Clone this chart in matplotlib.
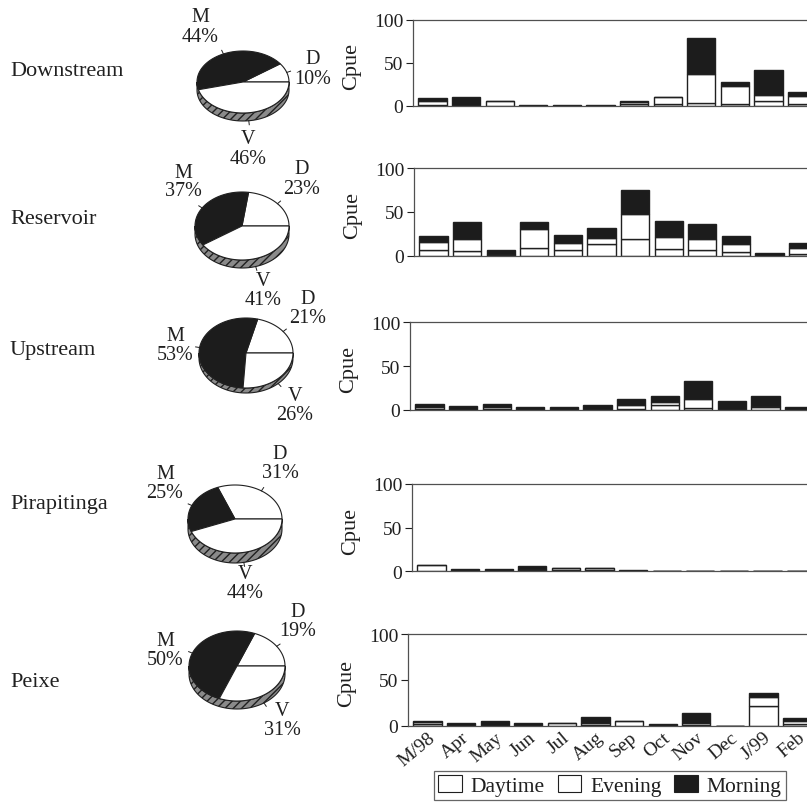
import numpy as np
import matplotlib
matplotlib.use("Agg")
import matplotlib.pyplot as plt
from matplotlib.patches import Polygon, Patch

plt.rcParams['font.family'] = ['Liberation Serif', 'DejaVu Serif']

months = ['M/98', 'Apr', 'May', 'Jun', 'Jul', 'Aug', 'Sep', 'Oct', 'Nov', 'Dec', 'J/99', 'Feb']
sites = ['Downstream', 'Reservoir', 'Upstream', 'Pirapitinga', 'Peixe']

# Cpue per month, split by period (Daytime / Evening / Morning)
down_day = [0.5, 0, 0, 0, 0, 0, 2, 2, 3.5, 2, 6, 2]
down_eve = [5, 0, 5, 0, 0, 0, 2, 8, 33, 20.5, 7, 9.5]
down_mor = [3, 10, 0, 1, 1, 1, 1, 0, 42.5, 5.5, 28.5, 4.5]

res_day = [7, 5, 1, 9, 6.5, 13, 19, 7.5, 6, 4, 0, 2]
res_eve = [9, 14.5, 0.5, 21.5, 8.5, 7, 28, 13.5, 13, 9, 0, 7]
res_mor = [6, 19, 5, 7.5, 9, 12, 27.5, 18, 17, 10, 2.7, 6]

up_day = [1, 0, 1, 0, 0, 0, 1, 5.5, 2.5, 0, 3, 0]
up_eve = [2, 0, 2, 0, 0, 0, 4.5, 4, 9.5, 0, 2, 0]
up_mor = [3.5, 5, 3.5, 3.5, 3, 6, 7, 7, 21, 10, 11, 3]

pira_day = [0, 0, 0, 1, 2, 2, 0, 0, 0, 0, 0, 0]
pira_eve = [7, 0, 0, 1.5, 1.5, 1.5, 0, 0, 0, 0, 0, 0]
pira_mor = [0, 3, 3, 3, 0.3, 0.3, 1.5, 0, 0, 0, 0, 0]

peixe_day = [2, 0, 0, 0, 0, 1, 0, 0, 0.5, 0, 21.5, 1.5]
peixe_eve = [2.5, 0, 0, 0, 3.5, 2.5, 5, 0, 2.5, 0, 10, 4]
peixe_mor = [1, 3, 5.5, 3, 0, 5.5, 0, 1.5, 11, 0, 4.5, 3.3]

# share of catch per period: D = daytime, M = morning, V = evening
pie_labels = ['D', 'M', 'V']
down_pct = [10, 44, 46]
res_pct = [23, 37, 41]
up_pct = [21, 53, 26]
pira_pct = [31, 25, 44]
peixe_pct = [19, 50, 31]

bars = [(down_day, down_eve, down_mor), (res_day, res_eve, res_mor),
        (up_day, up_eve, up_mor), (pira_day, pira_eve, pira_mor),
        (peixe_day, peixe_eve, peixe_mor)]
pcts = [down_pct, res_pct, up_pct, pira_pct, peixe_pct]

W, H = 807, 804
fig = plt.figure(figsize=(W / 100, H / 100), dpi=100)

# overlay in pixel units for the pies and row names
ov = fig.add_axes([0, 0, 1, 1])
ov.set_xlim(0, W)
ov.set_ylim(H, 0)
ov.axis('off')

ink = '#202020'
dark = '#1c1c1c'

# pie geometry: centre x, centre y, half width, half height, rim depth
pie_geo = [(243, 83, 46, 31, 8), (242, 227, 47, 34, 8), (246, 354, 47, 35, 5),
           (235, 520, 47, 34, 10), (237, 667, 48, 35, 8)]
# label anchor per slice (D, M, V)
pie_txt = [[(313, 60), (200, 18), (248, 140)],
           [(302, 170), (183, 173), (263, 282)],
           [(308, 300), (175, 337), (295, 397)],
           [(280, 455), (165, 475), (245, 575)],
           [(298, 613), (165, 642), (282, 712)]]
name_y = [72, 220, 351, 505, 683]


def ell(cx, cy, a, b, t):
    return np.column_stack([cx + a * np.cos(t), cy - b * np.sin(t)])


def draw_pie(geo, pct, txt):
    cx, cy, a, b, h = geo
    # rim under the front half
    t = np.linspace(np.pi, 2 * np.pi, 80)
    lower = ell(cx, cy, a, b, t)
    rim = np.vstack([lower, (lower + [0, h])[::-1]])
    ov.add_patch(Polygon(rim, closed=True, facecolor='#8a8a8a', edgecolor=ink,
                         lw=0.8, hatch='////', zorder=2))
    fr = np.array(pct, float) / sum(pct)
    start = 0.0
    colors = ['white', dark, 'white']
    for f, c, lab, (tx, ty), p in zip(fr, colors, pie_labels, txt, pct):
        end = start + f * 2 * np.pi
        tt = np.linspace(start, end, 60)
        pts = np.vstack([[cx, cy], ell(cx, cy, a, b, tt)])
        ov.add_patch(Polygon(pts, closed=True, facecolor=c, edgecolor=ink,
                             lw=0.8, zorder=3))
        mid = (start + end) / 2
        p0 = ell(cx, cy, a, b, np.array([mid]))[0]
        dy = h if np.sin(mid) < 0 else 0
        p1 = ell(cx, cy, a + 4, b + 4, np.array([mid]))[0]
        ov.plot([p0[0], p1[0]], [p0[1] + dy, p1[1] + dy], color=ink, lw=0.7, zorder=4)
        ov.text(tx, ty, lab, ha='center', va='center', fontsize=14.5, color=ink)
        ov.text(tx, ty + 19, f'{p}%', ha='center', va='center', fontsize=14.5, color=ink)
        start = end


for i in range(5):
    draw_pie(pie_geo[i], pcts[i], pie_txt[i])
    ov.text(10, name_y[i], sites[i], ha='left', va='center', fontsize=16, color=ink)

# bar panels: left spine x, y of the 0 line, y of the 100 line (pixels)
panel = [(413, 106.7, 20.7), (414, 256.7, 169), (410, 411, 323.3),
         (412, 572.3, 485), (408, 726.7, 635.3)]
pitch = 33.6
x = np.arange(len(months))
for i, (left, y0, y100) in enumerate(panel):
    xmin, xmax = -0.58, 12.4
    ax = fig.add_axes([left / W, 1 - y0 / H, (xmax - xmin) * pitch / W, (y0 - y100) / H])
    day, eve, mor = [np.array(v, float) for v in bars[i]]
    kw = dict(width=0.84, edgecolor=ink, linewidth=1.0)
    ax.bar(x, day, color='white', **kw)
    ax.bar(x, eve, bottom=day, color='white', **kw)
    ax.bar(x, mor, bottom=day + eve, color=dark, **kw)
    ax.set_xlim(xmin, xmax)
    ax.set_ylim(0, 100)
    ax.set_yticks([0, 50, 100])
    ax.tick_params(axis='y', labelsize=14, length=5, width=0.8, colors=ink, pad=2)
    ax.tick_params(axis='x', length=0)
    for s in ax.spines.values():
        s.set_linewidth(0.9)
        s.set_color('#505050')
    ax.set_ylabel('Cpue', fontsize=16, color=ink)
    ax.yaxis.set_label_coords(-0.118, 0.47)
    if i == 4:
        ax.set_xticks(x)
        ax.set_xticklabels(months, rotation=40, ha='right', va='top',
                           rotation_mode='anchor', fontsize=14, color=ink)
        ax.tick_params(axis='x', pad=2)
    else:
        ax.set_xticks([])

handles = [Patch(facecolor='white', edgecolor=ink, lw=0.8),
           Patch(facecolor='white', edgecolor=ink, lw=0.8),
           Patch(facecolor=dark, edgecolor=ink, lw=0.8)]
leg = fig.legend(handles, ['Daytime', 'Evening', 'Morning'], ncol=3,
                 loc='upper center', bbox_to_anchor=(610 / W, 1 - 772 / H),
                 fontsize=15.5, frameon=True, fancybox=False, handlelength=1.1,
                 handleheight=0.8, handletextpad=0.4, columnspacing=0.6,
                 borderpad=0.2, borderaxespad=0)
leg.get_frame().set_edgecolor('#404040')
leg.get_frame().set_linewidth(0.9)
for t in leg.get_texts():
    t.set_color(ink)

fig.savefig('out.png', dpi=100)
